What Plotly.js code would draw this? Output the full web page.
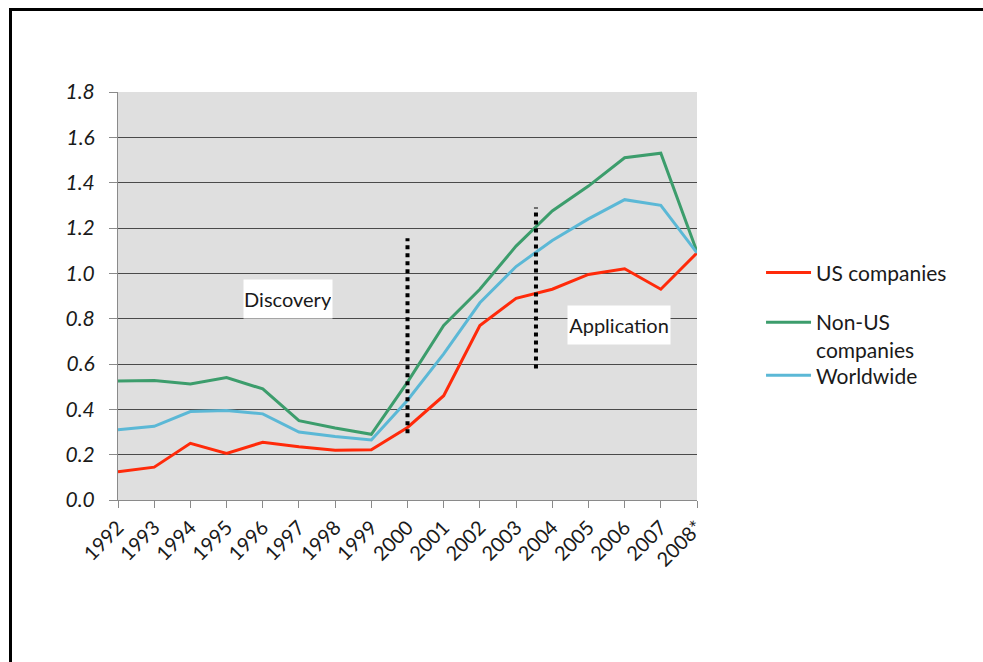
<!DOCTYPE html>
<html>
<head>
<meta charset="utf-8">
<script src="https://cdn.plot.ly/plotly-3.0.1.min.js"></script>
<style>
  html, body { margin: 0; padding: 0; background: #fff; }
  #wrap { position: relative; width: 983px; height: 662px; overflow: hidden; }
  #frame { position: absolute; left: 9px; top: 8px; width: 1000px; height: 700px;
           border-left: 3px solid #000; border-top: 3px solid #000; box-sizing: border-box; pointer-events: none; }
  #chart { position: absolute; left: 0; top: 0; width: 983px; height: 662px; }
</style>
</head>
<body>
<div id="wrap">
  <div id="chart"></div>
  <div id="frame"></div>
</div>
<script>
const years = ['1992','1993','1994','1995','1996','1997','1998','1999','2000','2001','2002','2003','2004','2005','2006','2007','2008*'];
const usCompanies = [0.125, 0.145, 0.25, 0.205, 0.255, 0.235, 0.22, 0.222, 0.32, 0.46, 0.77, 0.89, 0.93, 0.995, 1.02, 0.93, 1.09];
const nonUsCompanies = [0.525, 0.527, 0.512, 0.54, 0.49, 0.35, 0.318, 0.29, 0.52, 0.77, 0.93, 1.12, 1.275, 1.385, 1.51, 1.53, 1.095];
const worldwide = [0.31, 0.325, 0.39, 0.395, 0.38, 0.30, 0.28, 0.265, 0.44, 0.645, 0.87, 1.03, 1.145, 1.24, 1.325, 1.30, 1.09];
const seriesNames = ['US companies', 'Non-US<br>companies', 'Worldwide'];
const yTicks = [0, 0.2, 0.4, 0.6, 0.8, 1.0, 1.2, 1.4, 1.6, 1.8];

// phase dividers (category index position, y start, y end)
const dividerPos = [8, 11.55];
const dividerFrom = [0.295, 0.58];
const dividerTo = [1.155, 1.29];
// phase labels
const phaseLabels = ['Discovery', 'Application'];
const phaseLabelPos = [4.7, 13.85];
const phaseLabelY = [0.887, 0.77];

const font = 'Lato, "Open Sans", "DejaVu Sans", sans-serif';
const textColor = '#1a1a1a';
const colors = ['#ff2a0a', '#3c9d6c', '#5bb8d6'];
const values = [usCompanies, nonUsCompanies, worldwide];
const legendIds = ['legend', 'legend2', 'legend3'];
const legendTops = [0.607, 0.485, 0.355];

const traces = values.map((v, i) => ({
  type: 'scatter', mode: 'lines', x: years, y: v, name: seriesNames[i],
  line: { color: colors[i], width: 3 }, legend: legendIds[i]
}));

const shapes = dividerPos.map((p, i) => ({
  type: 'line', xref: 'x', yref: 'y', x0: p, x1: p, y0: dividerFrom[i], y1: dividerTo[i],
  line: { color: '#000', width: 4, dash: 'dot' }
}));

const annotations = phaseLabels.map((t, i) => ({
  text: t, x: phaseLabelPos[i], y: phaseLabelY[i], xref: 'x', yref: 'y', showarrow: false,
  bgcolor: '#ffffff', width: i === 0 ? 86 : 100, height: 36,
  font: { family: font, size: 20, color: textColor }
}));

function legendSpec(top) {
  return {
    x: 1.1106, y: top, xanchor: 'left', yanchor: 'top',
    font: { family: font, size: 21, color: textColor },
    valign: 'top', bgcolor: 'rgba(0,0,0,0)', itemwidth: 45
  };
}

const layout = {
  width: 983, height: 662,
  margin: { l: 118, r: 286, t: 92, b: 162 },
  paper_bgcolor: 'rgba(0,0,0,0)',
  plot_bgcolor: '#dfdfdf',
  showlegend: true,
  legend: legendSpec(legendTops[0]),
  legend2: legendSpec(legendTops[1]),
  legend3: legendSpec(legendTops[2]),
  xaxis: {
    type: 'category', range: [0, 16], fixedrange: true,
    showgrid: false, showline: true, linecolor: '#8a8a8a', linewidth: 1,
    ticks: 'outside', ticklen: 7, tickcolor: '#8a8a8a',
    tickangle: -45, tickfont: { family: font, size: 20, color: textColor }
  },
  yaxis: {
    range: [0, 1.8], tickvals: yTicks, tickformat: '.1f',
    showgrid: true, gridcolor: '#4a4a4a', gridwidth: 1, zeroline: false,
    showline: true, linecolor: '#8a8a8a', linewidth: 1,
    ticks: 'outside', ticklen: 8, tickcolor: '#8a8a8a', ticklabelstandoff: 10,
    tickfont: { family: font, size: 21, color: textColor, style: 'italic' }
  },
  shapes: shapes,
  annotations: annotations
};

Plotly.newPlot('chart', traces, layout, { staticPlot: true, displayModeBar: false });
</script>
</body>
</html>
